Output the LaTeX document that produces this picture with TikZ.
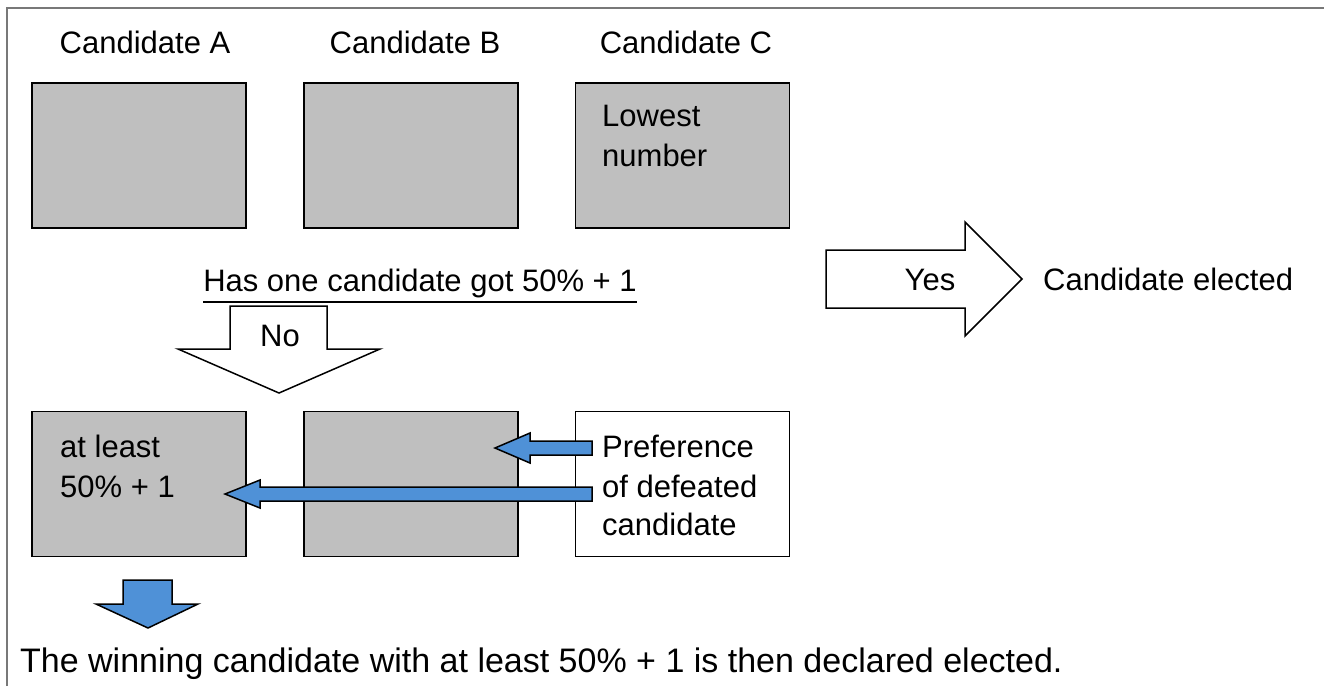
\documentclass[tikz,border=0pt]{standalone}
\usepackage{fontspec}
\setmainfont{Liberation Sans}
\definecolor{boxgray}{RGB}{191,191,191}
\definecolor{arrowblue}{RGB}{79,145,215}
\definecolor{framegray}{RGB}{120,120,120}
\begin{document}
\begin{tikzpicture}[x=1pt,y=-1pt,
  txt/.style={inner sep=0pt,font=\fontsize{31}{40}\selectfont},
  bigtxt/.style={inner sep=0pt,font=\fontsize{34}{40}\selectfont},
  gbox/.style={draw=black,line width=1.5pt,fill=boxgray,minimum width=214pt,minimum height=145pt,inner sep=0pt},
  wbox/.style={draw=black,line width=1.5pt,fill=white,minimum width=214pt,minimum height=145pt,inner sep=0pt},
  blockarrow/.style={draw=black,line width=1.5pt,fill=white,line join=miter},
  bluearrow/.style={draw=black,line width=1.5pt,fill=arrowblue,line join=miter}]
\useasboundingbox (0,0) rectangle (1324,686);
% frame
\draw[framegray,line width=2pt] (7,686) -- (7,8) -- (1324,8);
% headings
\node[txt,anchor=base] (hA) at (145,53) {Candidate A};
\node[txt,anchor=base] (hB) at (415,53) {Candidate B};
\node[txt,anchor=base] (hC) at (686,53) {Candidate C};
% top boxes
\node[gbox] (tA) at (139,155.5) {};
\node[gbox] (tB) at (411,155.5) {};
\node[gbox] (tC) at (682.5,155.5) {};
\node[txt,anchor=base west] (low1) at (602,126) {Lowest};
\node[txt,anchor=base west] (low2) at (602,166) {number};
% question
\node[txt,anchor=base] (q) at (420,291) {Has one candidate got 50\% + 1};
\draw[line width=1.5pt] ([yshift=-11pt]q.base west) -- ([yshift=-11pt]q.base east);
% No arrow
\draw[blockarrow] (230,306) -- (327,306) -- (327,349) -- (380,349) -- (279,393) -- (178,349) -- (230,349) -- cycle;
\node[txt,anchor=base] (no) at (280,346) {No};
% Yes arrow
\draw[blockarrow] (826,250) -- (965,250) -- (965,222) -- (1022,279) -- (965,336) -- (965,308) -- (826,308) -- cycle;
\node[txt,anchor=base] (yes) at (930,290) {Yes};
\node[txt,anchor=base west] (elected) at (1043,290) {Candidate elected};
% bottom boxes
\node[gbox] (bA) at (139,484) {};
\node[gbox] (bB) at (411,484) {};
\node[wbox] (bC) at (682.5,484) {};
\node[txt,anchor=base west] (al1) at (60,457) {at least};
\node[txt,anchor=base west] (al2) at (60,497) {50\% + 1};
\node[txt,anchor=base west] (p1) at (602,457) {Preference};
\node[txt,anchor=base west] (p2) at (602,497) {of defeated};
\node[txt,anchor=base west] (p3) at (602,535) {candidate};
% blue arrows
\draw[bluearrow] (592,441) -- (530,441) -- (530,433) -- (495,448) -- (530,463) -- (530,455) -- (592,455) -- cycle;
\draw[bluearrow] (592,487) -- (260,487) -- (260,480) -- (225,494) -- (260,508) -- (260,501) -- (592,501) -- cycle;
\draw[bluearrow] (123,580) -- (172,580) -- (172,604) -- (198,604) -- (148,628) -- (96,604) -- (123,604) -- cycle;
% final text
\node[bigtxt,anchor=base west] (final) at (20,672) {The winning candidate with at least 50\% + 1 is then declared elected.};
\end{tikzpicture}
\end{document}
